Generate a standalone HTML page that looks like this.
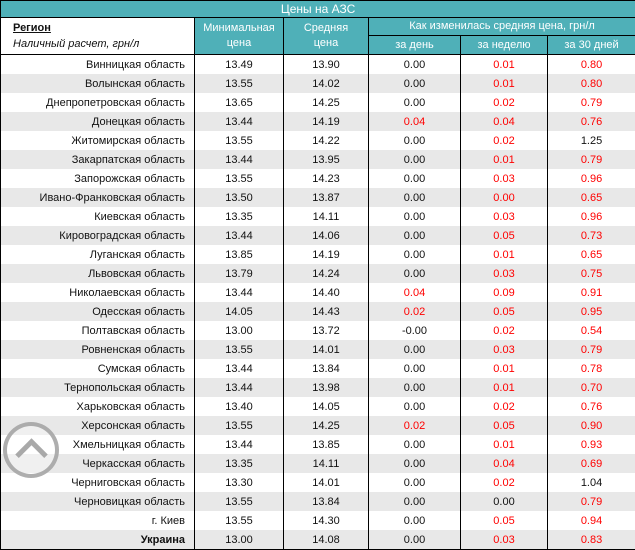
<!DOCTYPE html>
<html><head><meta charset="utf-8"><style>
body{margin:0;width:635px;height:549px;overflow:hidden;background:#fff;font-family:"Liberation Sans",Arial,sans-serif;font-size:11px;color:#111}
table{border-collapse:collapse;table-layout:fixed;width:635px;position:absolute;left:0;top:0}
td{padding:0;height:18px;border-left:1px solid #000;border-right:1px solid #000;text-align:center;white-space:nowrap;overflow:hidden}
tr.b td{height:19px}
tr.b:nth-child(odd) td{background:#e8e8e8}
td.r{text-align:right;padding-right:9px}
.t{background:#4fb0b8;color:#fff;font-size:12px;border:1px solid #000;height:16px}
.h{background:#4fb0b8;color:#fff;border-bottom:1px solid #000;border-top:1px solid #000;line-height:15px}
.red{color:#f00}
.btn{position:absolute;left:3px;top:422px;width:48px;height:48px;border:4px solid rgba(160,160,160,.85);border-radius:50%;background:rgba(255,255,255,.35)}
.btn:after{content:"";position:absolute;left:13px;top:17px;width:18px;height:18px;border-left:5px solid rgba(160,160,160,.9);border-top:5px solid rgba(160,160,160,.9);transform:rotate(45deg)}
</style></head><body>
<table>
<colgroup><col style="width:194px"><col style="width:89px"><col style="width:85px"><col style="width:92px"><col style="width:87px"><col style="width:88px"></colgroup>
<tr><td class="t" colspan="6">Цены на АЗС</td></tr>
<tr><td rowspan="2" style="text-align:left;padding-left:12px;border-top:1px solid #000;border-bottom:1px solid #000;line-height:16px"><b style="text-decoration:underline">Регион</b><br><i>Наличный расчет, грн/л</i></td>
<td rowspan="2" class="h" style="height:35px">Минимальная<br>цена</td>
<td rowspan="2" class="h">Средняя<br>цена</td>
<td colspan="3" class="h" style="height:17px">Как изменилась средняя цена, грн/л</td></tr>
<tr><td class="h" style="height:17px">за день</td><td class="h">за неделю</td><td class="h">за 30 дней</td></tr>
<tr class="b"><td class="r">Винницкая область</td><td>13.49</td><td>13.90</td><td>0.00</td><td class="red">0.01</td><td class="red">0.80</td></tr>
<tr class="b"><td class="r">Волынская область</td><td>13.55</td><td>14.02</td><td>0.00</td><td class="red">0.01</td><td class="red">0.80</td></tr>
<tr class="b"><td class="r">Днепропетровская область</td><td>13.65</td><td>14.25</td><td>0.00</td><td class="red">0.02</td><td class="red">0.79</td></tr>
<tr class="b"><td class="r">Донецкая область</td><td>13.44</td><td>14.19</td><td class="red">0.04</td><td class="red">0.04</td><td class="red">0.76</td></tr>
<tr class="b"><td class="r">Житомирская область</td><td>13.55</td><td>14.22</td><td>0.00</td><td class="red">0.02</td><td>1.25</td></tr>
<tr class="b"><td class="r">Закарпатская область</td><td>13.44</td><td>13.95</td><td>0.00</td><td class="red">0.01</td><td class="red">0.79</td></tr>
<tr class="b"><td class="r">Запорожская область</td><td>13.55</td><td>14.23</td><td>0.00</td><td class="red">0.03</td><td class="red">0.96</td></tr>
<tr class="b"><td class="r">Ивано-Франковская область</td><td>13.50</td><td>13.87</td><td>0.00</td><td class="red">0.00</td><td class="red">0.65</td></tr>
<tr class="b"><td class="r">Киевская область</td><td>13.35</td><td>14.11</td><td>0.00</td><td class="red">0.03</td><td class="red">0.96</td></tr>
<tr class="b"><td class="r">Кировоградская область</td><td>13.44</td><td>14.06</td><td>0.00</td><td class="red">0.05</td><td class="red">0.73</td></tr>
<tr class="b"><td class="r">Луганская область</td><td>13.85</td><td>14.19</td><td>0.00</td><td class="red">0.01</td><td class="red">0.65</td></tr>
<tr class="b"><td class="r">Львовская область</td><td>13.79</td><td>14.24</td><td>0.00</td><td class="red">0.03</td><td class="red">0.75</td></tr>
<tr class="b"><td class="r">Николаевская область</td><td>13.44</td><td>14.40</td><td class="red">0.04</td><td class="red">0.09</td><td class="red">0.91</td></tr>
<tr class="b"><td class="r">Одесская область</td><td>14.05</td><td>14.43</td><td class="red">0.02</td><td class="red">0.05</td><td class="red">0.95</td></tr>
<tr class="b"><td class="r">Полтавская область</td><td>13.00</td><td>13.72</td><td>-0.00</td><td class="red">0.02</td><td class="red">0.54</td></tr>
<tr class="b"><td class="r">Ровненская область</td><td>13.55</td><td>14.01</td><td>0.00</td><td class="red">0.03</td><td class="red">0.79</td></tr>
<tr class="b"><td class="r">Сумская область</td><td>13.44</td><td>13.84</td><td>0.00</td><td class="red">0.01</td><td class="red">0.78</td></tr>
<tr class="b"><td class="r">Тернопольская область</td><td>13.44</td><td>13.98</td><td>0.00</td><td class="red">0.01</td><td class="red">0.70</td></tr>
<tr class="b"><td class="r">Харьковская область</td><td>13.40</td><td>14.05</td><td>0.00</td><td class="red">0.02</td><td class="red">0.76</td></tr>
<tr class="b"><td class="r">Херсонская область</td><td>13.55</td><td>14.25</td><td class="red">0.02</td><td class="red">0.05</td><td class="red">0.90</td></tr>
<tr class="b"><td class="r">Хмельницкая область</td><td>13.44</td><td>13.85</td><td>0.00</td><td class="red">0.01</td><td class="red">0.93</td></tr>
<tr class="b"><td class="r">Черкасская область</td><td>13.35</td><td>14.11</td><td>0.00</td><td class="red">0.04</td><td class="red">0.69</td></tr>
<tr class="b"><td class="r">Черниговская область</td><td>13.30</td><td>14.01</td><td>0.00</td><td class="red">0.02</td><td>1.04</td></tr>
<tr class="b"><td class="r">Черновицкая область</td><td>13.55</td><td>13.84</td><td>0.00</td><td>0.00</td><td class="red">0.79</td></tr>
<tr class="b"><td class="r">г. Киев</td><td>13.55</td><td>14.30</td><td>0.00</td><td class="red">0.05</td><td class="red">0.94</td></tr>
<tr class="b"><td class="r" style="border-bottom:1px solid #000"><b>Украина</b></td><td style="border-bottom:1px solid #000">13.00</td><td style="border-bottom:1px solid #000">14.08</td><td style="border-bottom:1px solid #000">0.00</td><td class="red" style="border-bottom:1px solid #000">0.03</td><td class="red" style="border-bottom:1px solid #000">0.83</td></tr>
</table>
<div class="btn"></div>
</body></html>
